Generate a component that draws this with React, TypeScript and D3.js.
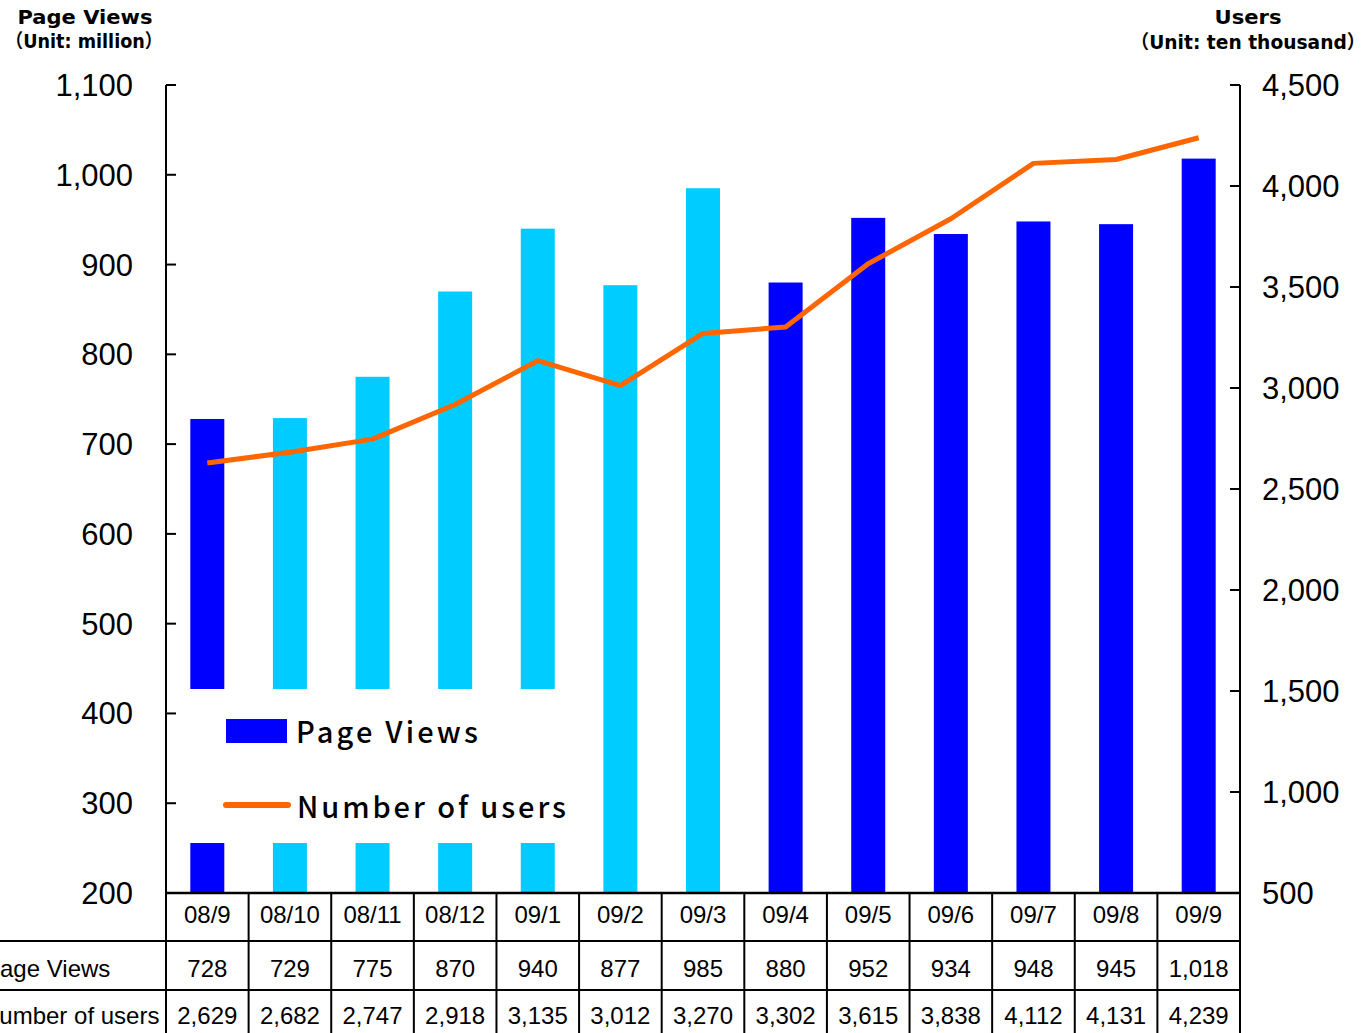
import React from "react";
import * as d3 from "d3";

const categories = ["08/9", "08/10", "08/11", "08/12", "09/1", "09/2", "09/3", "09/4", "09/5", "09/6", "09/7", "09/8", "09/9"];
const pageViews = [728, 729, 775, 870, 940, 877, 985, 880, 952, 934, 948, 945, 1018];
const users = [2629, 2682, 2747, 2918, 3135, 3012, 3270, 3302, 3615, 3838, 4112, 4131, 4239];
const barHighlight = [false, true, true, true, true, true, true, false, false, false, false, false, false];
const leftTicks = [200, 300, 400, 500, 600, 700, 800, 900, 1000, 1100];
const rightTicks = [500, 1000, 1500, 2000, 2500, 3000, 3500, 4000, 4500];

const W = 1371, H = 1033;
const X0 = 166, X1 = 1240, YT = 85, YB = 893;
const ROW1 = 941, ROW2 = 990;
const DARK = "#0000FF", CYAN = "#00CCFF", ORANGE = "#FF6600";
const FONT = "'Liberation Sans', Arial, sans-serif";
const TITLE_FONT = "'DejaVu Sans', 'Noto Sans CJK JP', sans-serif";
const CJK = "'Noto Sans CJK JP', sans-serif";

export default function App() {
  const x = d3.scaleBand<string>().domain(categories).range([X0, X1]).paddingInner(0).paddingOuter(0);
  const yL = d3.scaleLinear().domain([200, 1100]).range([YB, YT]);
  const yR = d3.scaleLinear().domain([500, 4500]).range([YB, YT]);
  const bw = 34;
  const cx = (c: string) => (x(c) as number) + x.bandwidth() / 2;
  const line = d3.line<number>().x((_, i) => cx(categories[i])).y((d) => yR(d));
  const fmt = d3.format(",");

  return (
    <svg width={W} height={H} style={{ position: "absolute", left: 0, top: 0, background: "#fff" }} fontFamily={FONT}>
      <rect x={0} y={0} width={W} height={H} fill="#fff" />
      {/* titles */}
      <text x={85} y={24} textAnchor="middle" fontSize={19} fontWeight="bold" fontFamily={TITLE_FONT} textLength={135} lengthAdjust="spacingAndGlyphs">Page Views</text>
      <text x={84} y={48} textAnchor="middle" fontSize={19} fontWeight="bold" fontFamily={TITLE_FONT} textLength={157} lengthAdjust="spacingAndGlyphs">（Unit: million）</text>
      <text x={1248} y={24} textAnchor="middle" fontSize={19} fontWeight="bold" fontFamily={TITLE_FONT} textLength={67} lengthAdjust="spacingAndGlyphs">Users</text>
      <text x={1248} y={49} textAnchor="middle" fontSize={19} fontWeight="bold" fontFamily={TITLE_FONT} textLength={235} lengthAdjust="spacingAndGlyphs">（Unit: ten thousand）</text>

      {/* bars */}
      {pageViews.map((v, i) => (
        <rect key={i} x={cx(categories[i]) - bw / 2} y={yL(v)} width={bw} height={YB - yL(v)} fill={barHighlight[i] ? CYAN : DARK} />
      ))}

      {/* line */}
      <path d={line(users) || ""} fill="none" stroke={ORANGE} strokeWidth={5} strokeLinejoin="round" />

      {/* legend box */}
      <rect x={180} y={689} width={410} height={154} fill="#fff" />
      <rect x={226} y={719} width={61} height={24} fill={DARK} />
      <text x={296} y={743} fontSize={29} fontFamily={CJK} fontWeight={500} textLength={182} lengthAdjust="spacing">Page Views</text>
      <line x1={226} x2={288} y1={805} y2={805} stroke={ORANGE} strokeWidth={6} strokeLinecap="round" />
      <text x={297} y={818} fontSize={29} fontFamily={CJK} fontWeight={500} textLength={269} lengthAdjust="spacing">Number of users</text>

      {/* left axis */}
      <line x1={X0} x2={X0} y1={YT} y2={H} stroke="#000" strokeWidth={2} />
      {leftTicks.map((t) => (
        <g key={t}>
          <line x1={X0} x2={X0 + 10} y1={yL(t)} y2={yL(t)} stroke="#000" strokeWidth={2} />
          <text x={133} y={yL(t) + 11} textAnchor="end" fontSize={31}>{fmt(t)}</text>
        </g>
      ))}
      {/* right axis */}
      <line x1={X1} x2={X1} y1={YT} y2={H} stroke="#000" strokeWidth={2} />
      {rightTicks.map((t) => (
        <g key={t}>
          <line x1={X1 - 10} x2={X1} y1={yR(t)} y2={yR(t)} stroke="#000" strokeWidth={2} />
          <text x={1262} y={yR(t) + 11} textAnchor="start" fontSize={31}>{fmt(t)}</text>
        </g>
      ))}

      {/* table */}
      <line x1={X0} x2={X1} y1={YB} y2={YB} stroke="#000" strokeWidth={2.5} />
      <line x1={0} x2={X1} y1={ROW1} y2={ROW1} stroke="#000" strokeWidth={2} />
      <line x1={0} x2={X1} y1={ROW2} y2={ROW2} stroke="#000" strokeWidth={2} />
      {categories.map((c, i) => (
        <g key={c}>
          {i > 0 && <line x1={x(c)} x2={x(c)} y1={YB} y2={H} stroke="#000" strokeWidth={2} />}
          <text x={cx(c)} y={923} textAnchor="middle" fontSize={24}>{c}</text>
          <text x={cx(c)} y={977} textAnchor="middle" fontSize={24}>{fmt(pageViews[i])}</text>
          <text x={cx(c)} y={1024} textAnchor="middle" fontSize={24}>{fmt(users[i])}</text>
        </g>
      ))}
      <text x={-16} y={977} fontSize={24}>Page Views</text>
      <text x={-18} y={1024} fontSize={24}>Number of users</text>
    </svg>
  );
}
